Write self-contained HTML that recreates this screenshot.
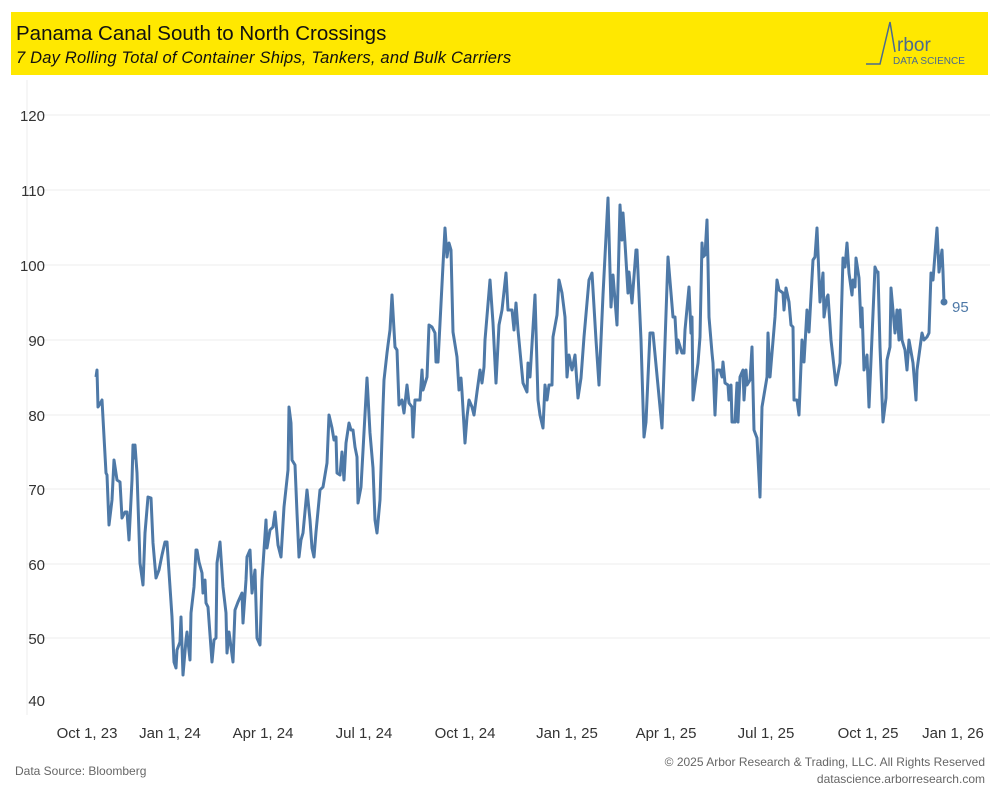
<!DOCTYPE html>
<html><head><meta charset="utf-8"><style>
body{margin:0;background:#fff;width:1000px;height:800px;overflow:hidden;font-family:"Liberation Sans",sans-serif}
</style></head><body>
<svg width="1000" height="800" xmlns="http://www.w3.org/2000/svg" font-family="Liberation Sans, sans-serif">
<rect x="11" y="12" width="977" height="63" fill="#FFE800"/>
<text x="16" y="40" font-size="20.5" fill="#111">Panama Canal South to North Crossings</text>
<text x="16" y="63" font-size="16.5" font-style="italic" fill="#111" letter-spacing="0.2">7 Day Rolling Total of Container Ships, Tankers, and Bulk Carriers</text>
<polyline points="866,64 880,64 890,22 895,52" fill="none" stroke="#4a6a8f" stroke-width="1.5"/>
<text x="897" y="51" font-size="19" fill="#4a6a8f">rbor</text>
<text x="893" y="64" font-size="10" fill="#4a6a8f">DATA SCIENCE</text>
<line x1="27" y1="80" x2="27" y2="715" stroke="#eee"/>
<g stroke="#ececec" stroke-width="1">
<line x1="27" y1="115" x2="990" y2="115"/><line x1="27" y1="190" x2="990" y2="190"/>
<line x1="27" y1="265" x2="990" y2="265"/><line x1="27" y1="340" x2="990" y2="340"/>
<line x1="27" y1="415" x2="990" y2="415"/><line x1="27" y1="489" x2="990" y2="489"/>
<line x1="27" y1="564" x2="990" y2="564"/><line x1="27" y1="638" x2="990" y2="638"/>
</g>
<g font-size="15" fill="#333" text-anchor="end">
<text x="45" y="121">120</text><text x="45" y="196">110</text><text x="45" y="271">100</text>
<text x="45" y="346">90</text><text x="45" y="421">80</text><text x="45" y="495">70</text>
<text x="45" y="570">60</text><text x="45" y="644">50</text><text x="45" y="706">40</text>
</g>
<g font-size="15" fill="#333" text-anchor="middle">
<text x="87" y="738">Oct 1, 23</text><text x="170" y="738">Jan 1, 24</text><text x="263" y="738">Apr 1, 24</text>
<text x="364" y="738">Jul 1, 24</text><text x="465" y="738">Oct 1, 24</text><text x="567" y="738">Jan 1, 25</text>
<text x="666" y="738">Apr 1, 25</text><text x="766" y="738">Jul 1, 25</text><text x="868" y="738">Oct 1, 25</text>
<text x="953" y="738">Jan 1, 26</text>
</g>
<polyline fill="none" stroke="#4e79a7" stroke-width="3" stroke-linejoin="round" points="96,377 97,370 98,407 101,402 102,400 106,473 107,475 109,525 112,500 114,460 117,480 120,482 122,518 125,512 127,512 129,540 132,480 133,445 134,458 135,445 137,473 140,563 143,585 145,533 148,497 151,498 153,543 156,578 159,570 162,555 165,542 167,542 172,617 174,662 176,668 177,650 180,642 181,617 183,675 186,640 187,632 190,660 191,613 194,587 196,550 197,550 199,562 202,573 203,593 205,580 206,603 208,607 212,662 214,640 216,638 217,563 220,542 223,587 226,613 227,653 229,632 231,647 233,662 235,610 238,602 242,593 243,623 246,580 247,557 250,550 252,593 255,570 257,638 260,645 262,580 266,520 267,548 270,530 273,527 275,512 278,545 281,557 284,507 288,470 289,407 291,423 292,460 295,465 297,513 299,557 301,540 303,533 307,490 310,520 312,548 314,557 316,532 320,490 323,487 327,463 329,415 332,428 334,440 336,437 337,473 340,475 342,452 344,480 346,443 349,423 351,430 353,430 355,447 357,457 358,503 361,487 367,378 370,433 373,468 375,520 377,533 380,500 383,407 384,380 387,353 388,345 390,330 392,295 395,347 397,350 399,405 402,400 404,413 407,385 409,403 412,407 413,437 415,400 420,400 422,370 423,390 427,377 429,325 432,327 435,333 436,362 438,362 443,265 445,228 447,257 449,243 451,250 453,332 457,357 459,390 461,378 462,392 465,443 467,417 469,400 472,407 474,415 477,392 480,370 482,383 484,367 485,340 490,280 493,323 496,383 499,325 502,310 506,273 508,310 512,310 514,330 516,303 518,330 523,383 527,392 528,363 530,377 535,295 538,400 540,415 543,428 545,385 547,400 549,385 552,385 553,337 557,315 559,280 562,293 565,317 567,377 569,355 572,370 575,355 578,398 581,378 584,337 589,280 592,273 596,340 599,385 603,295 608,198 611,307 613,275 615,300 617,325 620,205 622,240 623,213 625,243 628,293 629,272 632,303 636,250 637,250 641,340 644,437 646,422 650,333 653,333 660,407 662,428 668,257 673,317 675,317 677,353 678,340 682,353 684,353 685,330 689,287 691,333 692,317 693,400 698,363 700,337 702,243 703,257 705,255 707,220 708,263 709,317 712,353 713,363 715,415 717,370 720,370 722,377 723,362 725,383 728,385 729,400 731,385 732,422 735,422 737,383 738,422 740,377 743,370 744,400 746,370 747,385 750,380 752,347 754,430 757,438 760,497 762,407 767,377 768,333 770,377 775,317 777,280 779,290 783,293 784,310 786,288 789,302 791,325 793,327 794,400 797,400 799,415 802,340 804,362 807,310 809,332 813,260 815,257 817,228 820,302 823,273 824,317 827,297 828,295 831,340 836,385 840,363 843,258 845,267 847,243 849,273 852,295 853,280 855,287 856,258 859,278 861,327 862,308 864,370 867,355 869,407 875,267 877,272 878,272 880,347 883,422 886,398 887,360 890,347 891,288 895,333 897,310 899,340 900,310 902,340 905,350 907,370 909,340 913,363 916,400 917,370 922,333 924,340 927,337 929,333 931,273 933,280 937,228 939,272 942,250 943,272 944,302"/>
<circle cx="944" cy="302" r="3.5" fill="#4e79a7"/>
<text x="952" y="312" font-size="15" fill="#4e79a7">95</text>
<text x="15" y="775" font-size="12" fill="#666">Data Source: Bloomberg</text>
<text x="985" y="766" font-size="12" fill="#666" text-anchor="end">© 2025 Arbor Research &amp; Trading, LLC. All Rights Reserved</text>
<text x="985" y="783" font-size="12" fill="#666" text-anchor="end">datascience.arborresearch.com</text>
</svg>
</body></html>
